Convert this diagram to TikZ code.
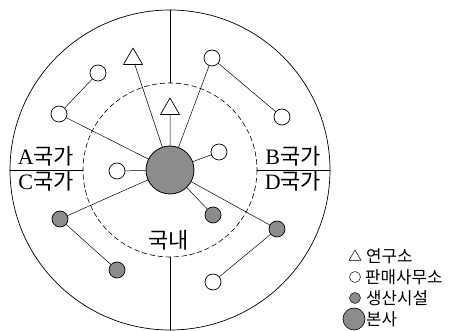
\documentclass[tikz,border=0pt]{standalone}
\usepackage{fontspec}
\setmainfont{Liberation Serif}
\newfontfamily\kr{Noto Sans CJK KR}
\usetikzlibrary{shapes.geometric}

\begin{document}
\begin{tikzpicture}[x=1pt, y=-1pt, line join=round, line cap=round,
    office/.style={circle, draw, line width=0.7pt, fill=white, inner sep=0pt, minimum size=16pt},
    plant/.style={office, fill=black!45},
    lab/.style={regular polygon, regular polygon sides=3, draw, line width=0.7pt, fill=white, inner sep=0pt, minimum size=22pt},
    hq/.style={circle, draw, line width=0.8pt, fill=black!45, inner sep=0pt, minimum size=48pt},
    link/.style={line width=0.5pt},
    region/.style={font=\fontsize{22}{26}\selectfont, anchor=base},
    keytext/.style={font=\fontsize{16.8}{18}\selectfont\kr, anchor=west, inner sep=0pt}]
  \useasboundingbox (0,0) rectangle (451,331);
  % frame
  \draw[line width=0.7pt] (170,170) circle[radius=160];
  \draw[dash pattern=on 5pt off 3pt, line width=0.6pt] (170,170) circle[radius=87];
  \draw[line width=0.6pt] (170,10)--(170,83) (170,257)--(170,330) (10,170)--(83,170) (257,170)--(330,170);
  \node[region] (nameA) at (46,165) {A{\kr 국가}};
  \node[region] (nameC) at (46,190) {C{\kr 국가}};
  \node[region] (nameB) at (293,165) {B{\kr 국가}};
  \node[region] (nameD) at (293,190) {D{\kr 국가}};
  \node[region] (namedom) at (169,249) {\kr 국내};
  % sites
  \node[hq] (hq) at (170,170) {};
  \node[lab] (labA) at (133,59) {};
  \node[lab] (labdom) at (170,109) {};
  \node[office] (offA1) at (98,73) {};
  \node[office] (offA2) at (59,114) {};
  \node[office] (offB1) at (212,58) {};
  \node[office] (offB2) at (282,117) {};
  \node[office] (offdomR) at (219,152) {};
  \node[office] (offdomL) at (117,171) {};
  \node[plant] (plantC1) at (60,219) {};
  \node[plant] (plantC2) at (117,270) {};
  \node[plant] (plantdom) at (213,215) {};
  \node[plant] (plantD) at (277,229) {};
  \node[office] (offD) at (213,282) {};
  \draw[link] (offA1)--(offA2)--(hq);
  \draw[link] (hq)--(labA) (hq)--(labdom);
  \draw[link] (hq)--(offB1)--(offB2);
  \draw[link] (hq)--(offdomR) (hq)--(offdomL) (hq)--(plantdom);
  \draw[link] (hq)--(plantC1)--(plantC2);
  \draw[link] (hq)--(plantD)--(offD);
  % legend
  \node[lab, minimum size=14pt, line width=0.5pt] (keylab) at (355,257) {};
  \node[office, minimum size=11pt, line width=0.5pt] (keyoff) at (355,277) {};
  \node[plant, minimum size=11pt, line width=0.5pt] (keyplant) at (355,298) {};
  \node[hq, minimum size=22pt, line width=0.6pt] (keyhq) at (354,319) {};
  \node[keytext] (textlab) at (366,256) {연구소};
  \node[keytext] (textoff) at (365,277) {판매사무소};
  \node[keytext] (textplant) at (366,298) {생산시설};
  \node[keytext] (texthq) at (366,319) {본사};
\end{tikzpicture}
\end{document}
